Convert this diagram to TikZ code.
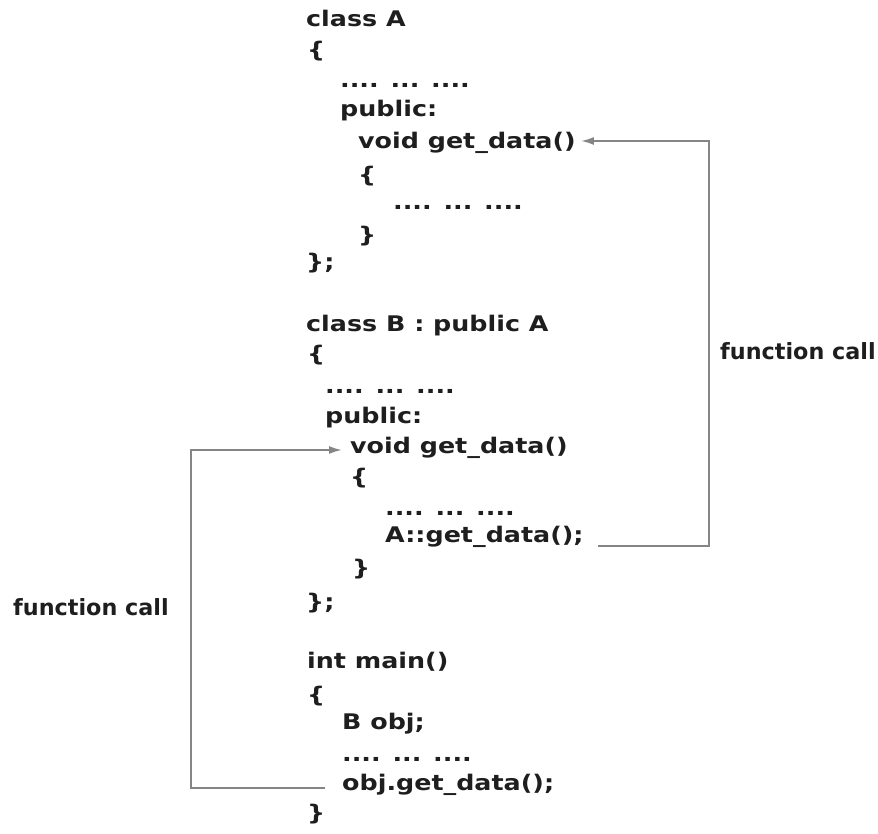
\documentclass[tikz,border=0pt]{standalone}
\usepackage{fontspec}
\setmainfont{DejaVu Sans}
\newfontfamily\codefont{DejaVu Sans}[FakeStretch=1.18]
\usetikzlibrary{arrows.meta}
\definecolor{txt}{HTML}{1E1E1E}
\definecolor{wire}{HTML}{858585}
\tikzset{
  code/.style={anchor=mid west, inner sep=0pt, text=txt,
    font=\codefont\bfseries\fontsize{21.5}{25}\selectfont},
  lbl/.style={anchor=mid west, inner sep=0pt, text=txt,
    font=\bfseries\fontsize{22.3}{26}\selectfont},
  conn/.style={draw=wire, line width=1.9pt, -{Latex[length=13pt,width=8pt]}},
}
\begin{document}
\begin{tikzpicture}[x=1pt,y=-1pt]
\useasboundingbox (0,0) rectangle (878,833);
% class A
\node[code] (cA)   at (306,24)  {class A};
\node[code] (aob)  at (307,55)  {\{};
\node[code] (ad1)  at (340,85)  {.... ... ....};
\node[code] (apub) at (340,114) {public:};
\node[code] (Aget) at (358,146) {void get\_data()};
\node[code] (aib)  at (358,180) {\{};
\node[code] (ad2)  at (393,207) {.... ... ....};
\node[code] (aic)  at (358,240) {\}};
\node[code] (acl)  at (306,267) {\};};
% class B
\node[code] (cB)   at (306,329) {class B : public A};
\node[code] (bob)  at (307,359) {\{};
\node[code] (bd1)  at (325,391) {.... ... ....};
\node[code] (bpub) at (325,421) {public:};
\node[code] (Bget) at (350,451) {void get\_data()};
\node[code] (bib)  at (350,482) {\{};
\node[code] (bd2)  at (385,513) {.... ... ....};
\node[code] (Acall) at (385,540) {A::get\_data();};
\node[code] (bic)  at (352,573) {\}};
\node[code] (bcl)  at (306,607) {\};};
% main
\node[code] (mn)   at (307,666) {int main()};
\node[code] (mob)  at (307,700) {\{};
\node[code] (obj)  at (342,727) {B obj;};
\node[code] (md)   at (342,759) {.... ... ....};
\node[code] (Ocall) at (342,788) {obj.get\_data();};
\node[code] (mcl)  at (307,818) {\}};
% labels
\node[lbl] (fr) at (720,357) {function call};
\node[lbl] (fl) at (13,613)  {function call};
% connectors
\coordinate (rtop) at (709,141);
\coordinate (ltop) at (191,450);
\draw[conn, shorten >=5pt] ([xshift=14pt,yshift=-6pt]Acall.mid east) -| (rtop) -- (rtop -| Aget.east);
\draw[conn, shorten >=8pt] ([xshift=-17pt]Ocall.mid west) -| (ltop) -- (ltop -| Bget.west);
\end{tikzpicture}
\end{document}
